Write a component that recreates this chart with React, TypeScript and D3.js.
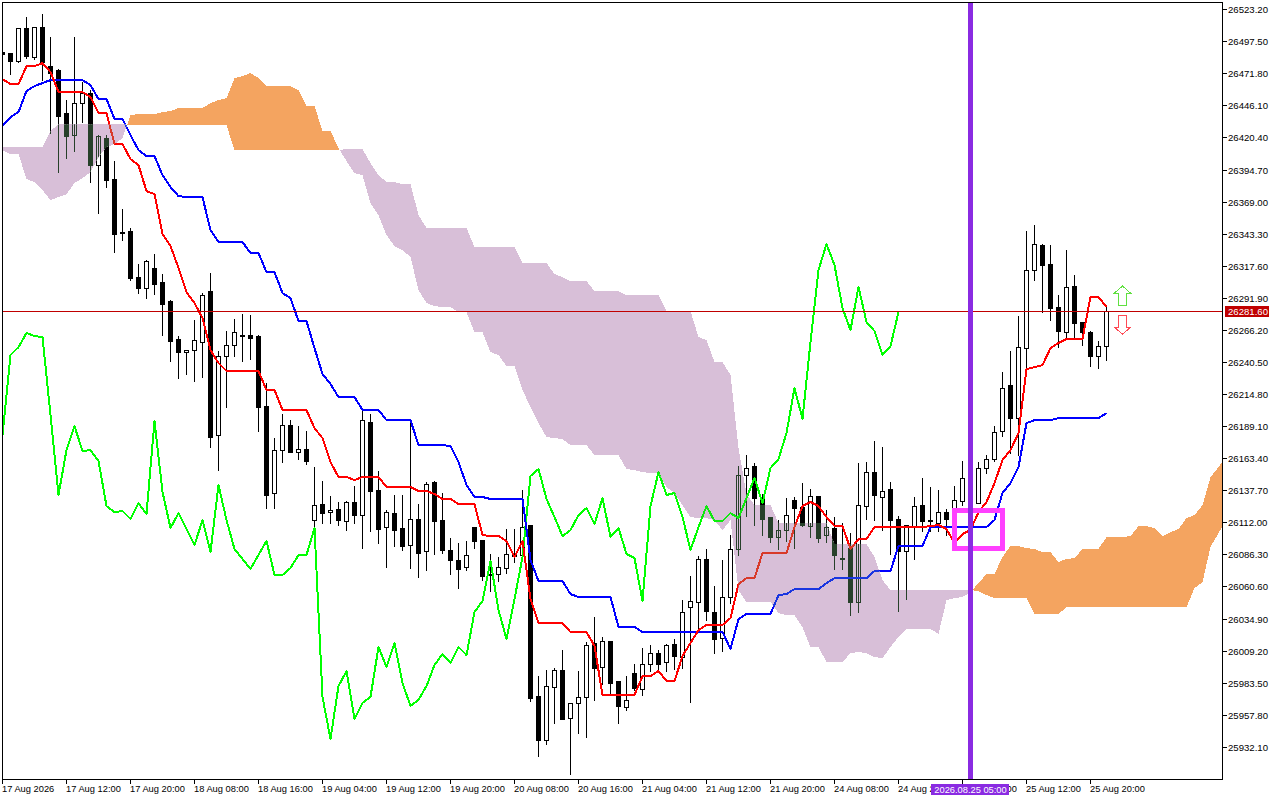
import React from "react";
import * as d3 from "d3";

// ---------- chart values ----------
const opens = [
26489.2,26488.4,26482.0,26508.4,26485.2,26509.2,26478.0,26474.8,26440.4,26422.7,
26448.4,26456.4,26398.7,26420.3,26387.5,26345.0,26345.8,26308.9,26300.1,26316.2,
26304.9,26289.7,26259.3,26248.8,26250.4,26256.1,26297.7,26182.3,26245.6,26254.4,
26261.7,26262.5,26261.7,26205.6,26135.1,26170.3,26190.3,26168.7,26171.1,26114.2,
26127.0,26120.6,26123.0,26113.4,26128.6,26118.2,26192.7,26137.5,26108.6,26119.8,
26107.8,26094.2,26115.0,26089.4,26144.7,26114.2,26090.2,26081.4,26075.8,26108.6,
26098.2,26070.2,26070.2,26075.0,26087.8,26086.2,26110.2,25973.2,25937.9,25980.4,
25994.0,25954.8,25966.8,25972.4,26014.9,25996.4,26016.5,25985.2,25963.6,25991.2,
25978.8,25998.8,26007.6,26000.4,26014.1,26004.4,26044.5,26048.5,26082.2,26040.5,
26018.9,26052.5,26091.0,26150.3,26157.5,26131.1,26116.6,26100.6,26106.2,26130.2,
26124.6,26109.4,26132.7,26102.2,26107.8,26083.8,26091.8,26048.5,26125.4,26152.7,
26131.9,26138.3,26115.0,26089.4,26109.4,26126.2,26113.4,26111.8,26120.6,26122.2,
26129.4,26127.8,26127.8,26155.9,26163.1,26185.5,26222.4,26195.2,26252.0,26314.6,
26334.6,26319.4,26284.9,26264.9,26301.7,26272.9,26264.9,26245.6,26253.6];
const closes = [
26487.6,26482.0,26508.4,26486.0,26509.2,26481.2,26472.4,26437.9,26421.9,26448.4,
26456.4,26398.7,26421.9,26386.7,26343.4,26344.2,26308.1,26300.1,26321.8,26303.3,
26287.3,26257.7,26248.8,26250.4,26258.5,26294.5,26180.7,26245.6,26254.4,26264.9,
26262.5,26260.1,26204.8,26133.5,26170.3,26190.3,26168.7,26171.1,26161.5,26126.2,
26119.8,26122.2,26114.2,26128.6,26118.2,26194.3,26136.7,26107.0,26120.6,26106.2,
26093.4,26115.0,26087.8,26143.1,26113.4,26090.2,26081.4,26074.2,26086.2,26097.4,
26069.3,26070.8,26075.8,26087.0,26085.4,26108.6,25971.6,25937.9,25981.2,25994.0,
25954.0,25967.6,25972.4,26013.3,25995.6,26016.5,25983.6,25964.4,25970.0,25979.6,
25998.8,26007.6,25998.8,26013.3,26005.2,26040.5,26049.3,26082.2,26041.3,26018.1,
26052.5,26091.0,26150.3,26155.9,26131.1,26115.0,26100.6,26106.2,26118.2,26123.8,
26110.2,26132.7,26099.8,26108.6,26086.2,26083.0,26048.5,26126.2,26152.7,26133.5,
26136.7,26114.2,26089.4,26110.2,26125.4,26113.4,26114.2,26120.6,26115.0,26130.2,
26147.9,26146.3,26155.9,26163.1,26184.7,26220.0,26195.2,26252.8,26314.6,26335.4,
26318.6,26284.1,26265.7,26300.9,26272.1,26264.9,26245.6,26253.6,26281.6];
const highs = [
26490.8,26488.4,26508.4,26517.2,26509.2,26519.6,26501.2,26475.6,26450.8,26501.2,
26465.2,26458.8,26422.7,26422.7,26401.9,26363.4,26348.2,26319.4,26322.6,26327.4,
26311.3,26290.5,26261.7,26250.4,26274.5,26296.1,26312.1,26249.6,26265.7,26275.3,
26279.3,26278.5,26262.5,26224.0,26179.9,26198.4,26194.3,26189.5,26185.5,26156.7,
26145.5,26132.7,26128.6,26129.4,26141.5,26202.4,26199.2,26153.5,26122.2,26133.5,
26133.5,26194.3,26127.0,26144.7,26145.5,26135.1,26099.8,26095.8,26097.4,26108.6,
26098.2,26087.0,26084.6,26107.0,26107.0,26137.5,26110.2,25989.2,25994.0,25995.6,
26010.0,25967.6,25993.2,26015.7,26036.5,26019.7,26016.5,25985.2,25989.2,25998.8,
26010.9,26013.3,26010.0,26014.1,26018.1,26050.1,26069.3,26085.4,26091.0,26061.3,
26081.4,26102.2,26157.5,26166.3,26159.9,26134.3,26116.6,26114.2,26131.1,26131.9,
26143.9,26138.3,26132.7,26122.2,26116.6,26111.8,26103.8,26159.9,26160.7,26177.5,
26172.7,26144.7,26117.4,26110.2,26131.9,26147.9,26140.3,26137.5,26123.0,26140.7,
26161.5,26154.3,26160.7,26166.3,26189.5,26232.8,26249.6,26277.7,26345.8,26350.6,
26335.4,26334.6,26294.5,26330.6,26310.5,26272.9,26265.7,26257.7,26284.9];
const lows = [
26486.0,26471.6,26481.2,26484.4,26483.6,26466.8,26424.3,26393.1,26404.3,26409.9,
26433.1,26385.1,26360.2,26381.1,26329.0,26338.6,26306.5,26296.1,26292.1,26295.3,
26262.5,26241.6,26228.0,26231.2,26225.6,26228.8,26172.7,26154.3,26204.8,26245.6,
26241.6,26243.2,26185.5,26123.8,26123.8,26160.7,26168.7,26163.1,26159.1,26107.8,
26111.8,26111.8,26110.2,26106.2,26111.8,26091.8,26105.4,26095.8,26075.8,26093.4,
26090.2,26075.0,26068.5,26073.4,26087.0,26087.8,26070.2,26059.7,26073.4,26091.8,
26066.1,26057.3,26065.3,26071.0,26079.8,26086.2,25969.2,25925.1,25934.7,25950.8,
25954.0,25910.7,25943.5,25940.3,25970.0,25982.8,25975.6,25950.8,25961.2,25978.0,
25974.0,25993.2,25992.4,25993.2,25994.8,25995.6,25968.4,26026.1,26034.1,26007.6,
26009.2,26047.7,26086.2,26117.4,26110.2,26102.2,26096.6,26091.0,26097.4,26091.8,
26109.4,26100.6,26096.6,26096.6,26074.2,26074.2,26038.1,26040.5,26115.0,26114.2,
26106.2,26087.0,26041.3,26050.9,26082.2,26105.4,26105.4,26105.4,26102.2,26114.2,
26126.2,26122.2,26127.8,26151.9,26161.5,26181.5,26167.9,26166.3,26234.4,26306.5,
26280.9,26274.5,26252.8,26260.1,26260.1,26254.4,26237.6,26236.0,26242.4];
const tenkan = [
26467.6,26463.6,26463.6,26478.0,26478.0,26480.4,26473.2,26457.2,26457.2,26457.2,
26457.2,26453.2,26440.4,26440.4,26415.5,26415.5,26403.5,26398.7,26377.8,26375.4,
26343.4,26333.8,26316.2,26296.9,26288.1,26276.1,26250.4,26240.0,26233.6,26233.6,
26233.6,26233.6,26233.6,26218.4,26218.4,26202.4,26202.4,26202.4,26202.4,26187.9,
26179.9,26160.7,26148.7,26148.7,26146.3,26148.7,26148.7,26148.7,26140.7,26140.7,
26140.7,26140.7,26137.5,26137.5,26135.1,26131.1,26131.1,26127.0,26127.0,26127.0,
26102.2,26101.4,26101.4,26097.4,26084.6,26097.4,26050.9,26031.7,26031.7,26031.7,
26031.7,26024.5,26024.5,26024.5,26013.3,25974.0,25974.0,25974.0,25974.0,25974.0,
25989.2,25989.2,25993.2,25985.2,25985.2,26005.2,26015.7,26026.1,26030.1,26030.1,
26030.1,26035.7,26062.9,26067.7,26067.7,26087.8,26087.8,26087.8,26087.8,26108.6,
26125.4,26128.6,26125.4,26116.6,26109.4,26109.4,26091.0,26099.0,26099.0,26108.6,
26108.6,26108.6,26108.6,26108.6,26108.6,26108.6,26109.4,26110.2,26107.0,26095.8,
26103.0,26106.2,26120.6,26128.6,26143.9,26162.3,26170.3,26183.9,26235.2,26236.8,
26238.4,26252.0,26256.1,26259.3,26259.3,26259.3,26292.9,26292.9,26284.9];
const kijun = [
26429.9,26437.1,26441.2,26458.0,26462.0,26464.4,26466.8,26466.8,26466.8,26466.8,
26466.8,26462.8,26451.6,26451.6,26435.5,26435.5,26422.7,26410.7,26405.9,26405.9,
26390.7,26381.1,26373.8,26373.0,26373.0,26373.0,26346.6,26337.0,26337.0,26337.0,
26337.0,26328.2,26328.2,26312.9,26312.9,26296.1,26292.1,26273.7,26273.7,26252.0,
26231.2,26223.2,26212.8,26212.8,26212.8,26202.4,26202.4,26202.4,26194.3,26194.3,
26194.3,26194.3,26174.3,26174.3,26174.3,26174.3,26173.5,26160.7,26142.3,26132.7,
26132.7,26131.1,26131.1,26131.1,26131.1,26131.1,26082.2,26065.3,26065.3,26065.3,
26065.3,26054.9,26052.5,26052.5,26052.5,26052.5,26052.5,26028.5,26028.5,26028.5,
26024.5,26024.5,26024.5,26024.5,26024.5,26024.5,26024.5,26024.5,26024.5,26024.5,
26024.5,26010.9,26034.9,26038.9,26038.9,26038.9,26038.9,26054.1,26054.9,26058.9,
26058.9,26058.9,26058.9,26063.7,26067.7,26067.7,26067.7,26067.7,26067.7,26073.4,
26073.4,26073.4,26093.4,26093.4,26093.4,26093.4,26108.6,26108.6,26108.6,26108.6,
26108.6,26108.6,26108.6,26108.6,26114.2,26135.9,26143.9,26156.7,26191.9,26194.3,
26194.3,26194.3,26195.9,26195.9,26195.9,26195.9,26195.9,26195.9,26199.9];
const chikou = [
26182.3,26246.4,26252.8,26264.1,26261.7,26260.9,26198.4,26134.3,26170.3,26189.5,
26169.5,26170.3,26161.5,26125.4,26120.6,26121.4,26115.0,26127.8,26119.0,26193.5,
26136.7,26107.8,26119.8,26107.0,26094.2,26114.2,26088.6,26142.3,26114.2,26091.0,
26083.0,26075.0,26086.2,26097.4,26070.2,26070.2,26075.8,26086.2,26086.2,26107.8,
25972.4,25938.7,25981.2,25993.2,25954.8,25967.6,25972.4,26012.5,25996.4,26015.7,
25983.6,25965.2,25970.0,25981.2,25998.0,26006.8,25999.6,26012.5,26006.0,26040.5,
26049.3,26081.4,26042.1,26018.9,26050.9,26084.6,26149.5,26155.1,26131.1,26116.6,
26101.4,26106.2,26118.2,26123.8,26111.0,26131.9,26100.6,26107.8,26087.0,26083.8,
26049.3,26125.4,26152.7,26134.3,26135.9,26116.6,26090.2,26108.6,26125.4,26113.4,
26113.4,26119.8,26115.8,26131.9,26147.9,26127.8,26155.9,26163.1,26183.9,26220.0,
26195.2,26256.9,26314.6,26335.4,26318.6,26284.1,26266.5,26300.9,26272.9,26265.7,
26246.4,26253.6,26280.9];
const spanA = [
26410.7,26407.5,26407.5,26387.5,26385.1,26378.6,26370.6,26373.0,26375.4,26384.3,
26388.3,26393.1,26405.1,26413.1,26415.5,26420.3,26438.7,26439.6,26439.6,26439.6,
26441.2,26442.0,26444.4,26444.4,26444.4,26444.4,26448.4,26450.8,26452.4,26468.4,
26470.0,26472.4,26468.4,26462.0,26462.0,26462.0,26462.0,26458.8,26446.0,26446.0,
26425.9,26425.9,26412.3,26401.9,26392.3,26390.7,26368.2,26358.6,26342.6,26333.8,
26330.6,26325.0,26298.5,26288.1,26285.7,26284.9,26284.9,26280.9,26280.9,26264.9,
26264.9,26248.8,26246.4,26237.6,26237.6,26218.4,26204.8,26191.9,26180.7,26179.9,
26179.1,26174.3,26174.3,26174.3,26166.3,26166.3,26166.3,26166.3,26155.1,26154.3,
26152.7,26151.9,26151.9,26140.7,26135.9,26126.2,26116.6,26115.8,26115.8,26114.2,
26106.2,26114.2,26058.1,26048.5,26048.5,26048.5,26048.5,26039.7,26038.1,26038.1,
26028.5,26012.5,26012.5,26000.4,26000.4,26000.4,26007.6,26008.4,26007.6,26004.4,
26003.6,26012.5,26020.5,26026.9,26026.9,26026.9,26026.9,26022.9,26050.1,26051.7,
26052.5,26056.5,26063.7,26071.0,26071.0,26084.6,26093.4,26093.4,26091.8,26091.0,
26088.6,26088.6,26080.6,26083.0,26083.8,26091.0,26091.0,26091.0,26100.6,26100.6,
26100.6,26101.4,26109.4,26109.4,26107.8,26101.4,26104.6,26107.0,26115.8,26118.2,
26126.2,26148.7,26156.7,26166.3];
const spanB = [
26413.1,26413.1,26413.1,26413.1,26413.1,26413.1,26425.9,26431.5,26431.5,26431.5,
26431.5,26431.5,26431.5,26431.5,26431.5,26431.5,26430.7,26430.7,26430.7,26430.7,
26430.7,26430.7,26430.7,26430.7,26430.7,26430.7,26430.7,26430.7,26430.7,26410.7,
26410.7,26410.7,26410.7,26410.7,26410.7,26410.7,26410.7,26410.7,26410.7,26410.7,
26410.7,26410.7,26410.7,26411.5,26411.5,26411.5,26400.3,26390.7,26385.1,26385.1,
26383.5,26383.5,26358.6,26348.2,26348.2,26348.2,26348.2,26348.2,26348.2,26333.0,
26333.0,26333.0,26333.0,26333.0,26333.0,26320.2,26320.2,26320.2,26320.2,26311.3,
26308.9,26305.7,26305.7,26305.7,26297.7,26297.7,26297.7,26297.7,26294.5,26294.5,
26294.5,26294.5,26294.5,26281.7,26281.7,26281.7,26281.7,26260.9,26258.5,26240.8,
26240.8,26230.4,26171.9,26135.1,26126.2,26126.2,26126.2,26111.8,26111.8,26111.8,
26111.8,26111.8,26111.8,26111.8,26095.0,26095.0,26095.0,26095.0,26095.0,26084.6,
26066.1,26058.1,26058.1,26058.1,26058.1,26058.1,26058.1,26058.1,26058.1,26058.1,
26058.1,26058.1,26057.3,26054.1,26051.7,26051.7,26051.7,26051.7,26051.7,26038.9,
26038.9,26038.9,26038.9,26044.5,26044.5,26044.5,26044.5,26044.5,26044.5,26044.5,
26044.5,26044.5,26044.5,26044.5,26044.5,26044.5,26044.5,26044.5,26044.5,26059.7,
26064.5,26092.6,26103.8,26114.2];

const priceTicks = [26523.2,26497.5,26471.8,26446.1,26420.4,26394.7,26369.0,26343.3,26317.6,26291.9,26266.2,26240.5,26214.8,26189.1,26163.4,26137.7,26112.0,26086.3,26060.6,26034.9,26009.2,25983.5,25957.8,25932.1];
const timeLabels = ["17 Aug 2026","17 Aug 12:00","17 Aug 20:00","18 Aug 08:00","18 Aug 16:00","19 Aug 04:00","19 Aug 12:00","19 Aug 20:00","20 Aug 08:00","20 Aug 16:00","21 Aug 04:00","21 Aug 12:00","21 Aug 20:00","24 Aug 08:00","24 Aug 20:00","25 Aug 04:00","25 Aug 12:00","25 Aug 20:00"];
const lastPrice = 26281.6;
const markerBar = 121;
const markerLabel = "2026.08.25 05:00";
const boxBars = [119, 125];
const boxPrices = [26122.2, 26091.8];
const arrowBar = 140;
const arrowUpPrice = 26301.7;
const arrowDownPrice = 26278.5;

// ---------- scales ----------
const L = 2, T = 2, R = 1222, B = 779;
const xS = d3.scaleLinear().domain([0, 138]).range([2.5, 1106.5]);
const yS = d3.scaleLinear().domain([25932.1, 26523.2]).range([747.3, 9.7]);
const py = (p: number) => Math.floor(yS(p)) + 0.5;
const lineGen = d3.line<number>().x((_, i) => xS(i)).y((p) => yS(p));

function cloudPaths() {
  const area = d3.area<[number, number, number]>().x((d) => xS(d[0])).y0((d) => yS(d[1])).y1((d) => yS(d[2]));
  const bull: string[] = [];
  const bear: string[] = [];
  d3.range(spanA.length - 1).forEach((i) => {
    const a0 = spanA[i], b0 = spanB[i], a1 = spanA[i + 1], b1 = spanB[i + 1];
    const d0 = a0 - b0, d1 = a1 - b1;
    const to = (d: number) => (d >= 0 ? bull : bear);
    if (d0 * d1 < 0) {
      const t = d0 / (d0 - d1);
      const m = a0 + t * (a1 - a0);
      to(d0).push(area([[i, a0, b0], [i + t, m, m]]) as string);
      to(d1).push(area([[i + t, m, m], [i + 1, a1, b1]]) as string);
    } else {
      to(d0).push(area([[i, a0, b0], [i + 1, a1, b1]]) as string);
    }
  });
  return { orange: bull.join(""), lilac: bear.join("") };
}

function Candles({ ink, paper }: { ink: string; paper: string }) {
  return (
    <g shapeRendering="crispEdges">
      {opens.map((o, i) => {
        const c = closes[i];
        const x = xS(i);
        const top = py(Math.max(o, c));
        const bot = py(Math.min(o, c));
        const up = c >= o;
        return (
          <g key={i}>
            <line x1={x} x2={x} y1={py(highs[i]) - 0.5} y2={py(lows[i]) + 0.5} stroke={ink} />
            <rect x={x - 2} width={4} y={top} height={Math.max(bot - top, 1)} fill={up ? paper : ink} stroke={ink} />
          </g>
        );
      })}
    </g>
  );
}

function Lines({ red, blue, green }: { red: string; blue: string; green: string }) {
  const common = { fill: "none", strokeWidth: 2, shapeRendering: "crispEdges" as const, strokeLinejoin: "round" as const };
  return (
    <g>
      <path d={lineGen(chikou) as string} stroke={green} {...common} />
      <path d={lineGen(kijun) as string} stroke={blue} {...common} />
      <path d={lineGen(tenkan) as string} stroke={red} {...common} />
    </g>
  );
}

const FONT = '"Liberation Sans", Arial, sans-serif';

export default function App() {
  const { orange, lilac } = cloudPaths();
  const mx = xS(markerBar);
  const ux = xS(arrowBar);
  const uy = Math.round(yS(arrowUpPrice));
  const dy = Math.round(yS(arrowDownPrice));
  return (
    <svg width={1280} height={800} viewBox="0 0 1280 800" style={{ position: "absolute", left: 0, top: 0, background: "#fff", display: "block" }}>
      <defs>
        <clipPath id="plot"><rect x={L} y={T} width={R - L} height={B - T} /></clipPath>
        <clipPath id="lilacClip"><path d={lilac} /></clipPath>
      </defs>
      <g clipPath="url(#plot)">
        <Candles ink="#000" paper="#fff" />
        <Lines red="#ff0000" blue="#0000ff" green="#00ff00" />
        <path d={orange} fill="#f4a460" shapeRendering="crispEdges" />
        <path d={lilac} fill="#d8bfd8" shapeRendering="crispEdges" />
        <g clipPath="url(#lilacClip)">
          <Candles ink="#27402a" paper="none" />
          <Lines red="#d83a2a" blue="#1a36e0" green="#10e810" />
        </g>
        <line x1={L} x2={R} y1={py(lastPrice)} y2={py(lastPrice)} stroke="#c00000" strokeWidth={1} shapeRendering="crispEdges" />
        <rect
          x={xS(boxBars[0])} y={yS(boxPrices[0])}
          width={xS(boxBars[1]) - xS(boxBars[0])} height={yS(boxPrices[1]) - yS(boxPrices[0])}
          fill="none" stroke="#ff40ff" strokeWidth={5} shapeRendering="crispEdges"
        />
        <line x1={mx} x2={mx} y1={T} y2={B} stroke="#8a2be2" strokeWidth={5} shapeRendering="crispEdges" />
        <path transform={`translate(${ux},${uy})`} d="M0,0L8.5,7.5L4,7.5L4,19L-4,19L-4,7.5L-8.5,7.5Z" fill="#fff" stroke="#60e040" strokeWidth={1} shapeRendering="crispEdges" />
        <path transform={`translate(${ux},${dy})`} d="M-4,0L4,0L4,12L8.5,12L0,19L-8.5,12L-4,12Z" fill="#fff" stroke="#ff4a55" strokeWidth={1} shapeRendering="crispEdges" />
      </g>
      <rect x={L + 0.5} y={T + 0.5} width={R - L} height={B - T} fill="none" stroke="#000" shapeRendering="crispEdges" />
      <g fontFamily={FONT} fontSize={9.3} fill="#000">
        {priceTicks.map((p) => (
          <g key={p}>
            <line x1={R + 0.5} x2={R + 4.5} y1={py(p)} y2={py(p)} stroke="#000" shapeRendering="crispEdges" />
            <text x={1228} y={py(p) + 3.4} fontSize={9.6}>{p.toFixed(2)}</text>
          </g>
        ))}
        {timeLabels.map((t, k) => {
          const x = xS(k * 8);
          return (
            <g key={t}>
              <line x1={x} x2={x} y1={B + 0.5} y2={B + 4.5} stroke="#000" shapeRendering="crispEdges" />
              <text x={x - 0.5} y={791.5}>{t}</text>
            </g>
          );
        })}
        <rect x={1225} y={py(lastPrice) - 5.5} width={44} height={11} fill="#c00000" />
        <text x={1228} y={py(lastPrice) + 3.4} fontSize={9.6} fill="#fff">{lastPrice.toFixed(2)}</text>
        <rect x={mx - 39.5} y={784} width={78} height={11} fill="#8a2be2" />
        <text x={mx} y={792.5} fill="#fff" textAnchor="middle">{markerLabel}</text>
      </g>
    </svg>
  );
}
